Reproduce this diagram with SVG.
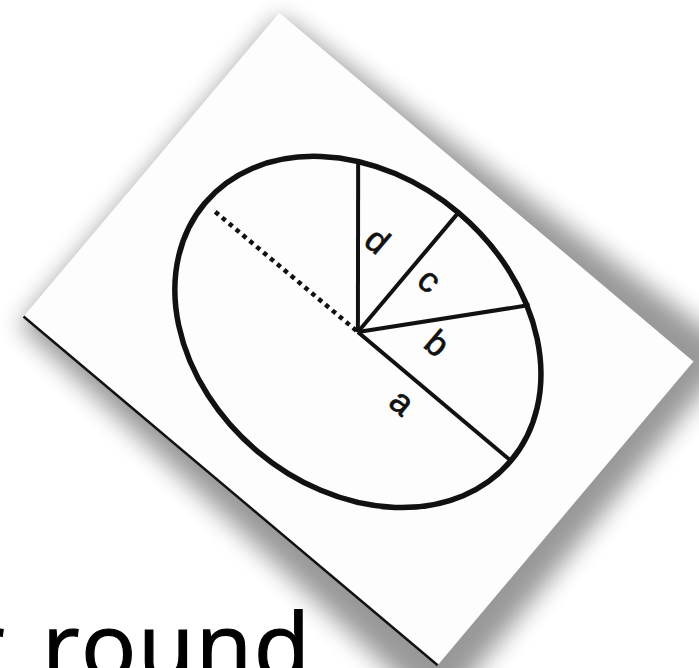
<svg xmlns="http://www.w3.org/2000/svg" width="699" height="668" viewBox="0 0 699 668">
<defs>
<filter id="shadow" x="-20%" y="-20%" width="140%" height="140%">
<feGaussianBlur stdDeviation="12"/>
</filter>
<style>
.ell{fill:none;stroke:#111;stroke-width:5.5}
.ln{stroke:#111;stroke-width:4;stroke-linecap:butt}
.dot{stroke:#111;stroke-width:4.5;stroke-dasharray:4.5 4.5}
.lbl{font-family:"Liberation Sans",Arial,sans-serif;font-size:35px;fill:#111;stroke:#111;stroke-width:0.7;text-anchor:middle}
.big{font-family:"Open Sans","Lato",sans-serif;font-size:92px;fill:#000;stroke:#000;stroke-width:1.2}
</style>
</defs>
<rect width="699" height="668" fill="#ffffff"/>
<g id="card" transform="translate(358.5,339) rotate(40.1)">
<polygon points="-268,-196 296,-234 304,236 -268,208" fill="#000" opacity="0.4" filter="url(#shadow)"/>
<rect x="-270.7" y="-198.6" width="541.4" height="397.2" fill="#fdfdfd"/>
<line x1="-270.7" y1="198.6" x2="270.7" y2="198.6" stroke="#111" stroke-width="2.5"/>
</g>
<g id="figure" transform="translate(358.5,339) rotate(40.1)">
<g id="ellipse"><ellipse class="ell" cx="-5" cy="-5" rx="200" ry="156"/></g>
<g id="connectors">
<line class="dot" x1="-7" y1="-5" x2="-196" y2="-5"/>
<line id="line-a" class="ln" x1="-5" y1="-5" x2="195" y2="-5"/>
<line id="line-b" class="ln" x1="-5" y1="-5" x2="109" y2="-136.2"/>
<line id="line-c" class="ln" x1="-5" y1="-5" x2="-5" y2="-161"/>
<line id="line-d" class="ln" x1="-5" y1="-5" x2="-114.8" y2="-135.8"/>
</g>
<g id="label-a"><text class="lbl" x="74" y="32">a</text></g>
<g id="label-b"><text class="lbl" x="63" y="-35.5">b</text></g>
<g id="label-c"><text class="lbl" x="16.5" y="-79">c</text></g>
<g id="label-d"><text class="lbl" x="-49" y="-75.5">d</text></g>
</g>
<g id="caption"><text class="big" x="-33" y="679">r <tspan x="42" letter-spacing="1.5">round</tspan></text></g>
</svg>
